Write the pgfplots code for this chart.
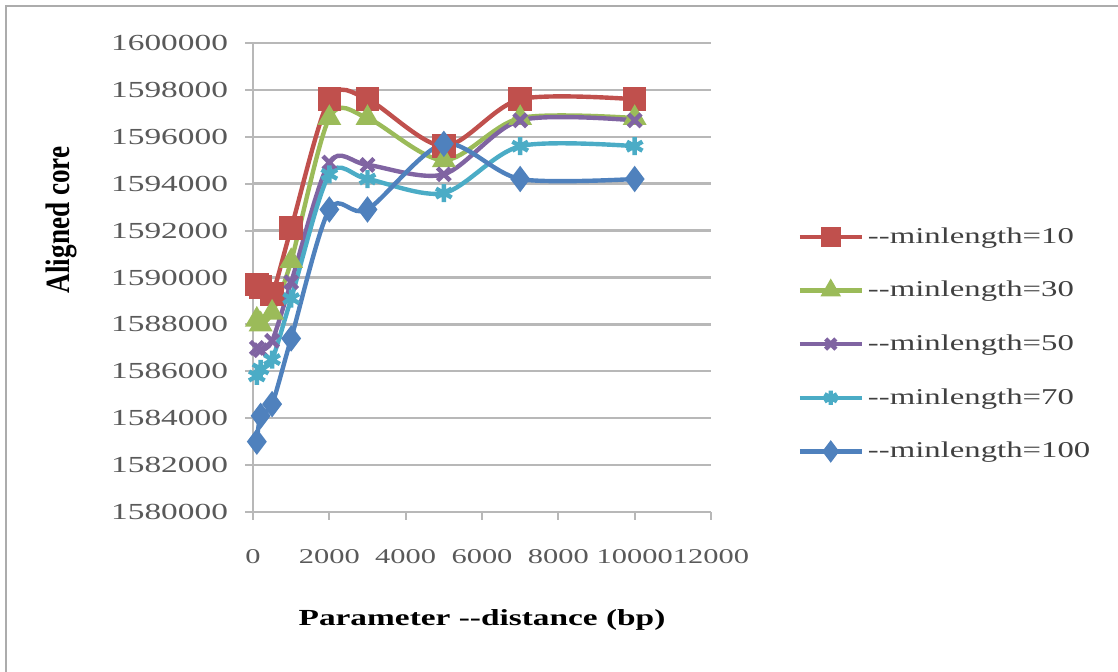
\documentclass[border=0pt]{standalone}
\usepackage{pgfplots}
\pgfplotsset{compat=1.18}
\usepackage{fontspec}
\setmainfont{Liberation Serif}[FakeStretch=1.45]
\newfontfamily\ylabfont{Liberation Serif}[FakeStretch=0.8]
\definecolor{cred}{HTML}{C0504D}
\definecolor{cgreen}{HTML}{9BBB59}
\definecolor{cpurple}{HTML}{8064A2}
\definecolor{ccyan}{HTML}{4BACC6}
\definecolor{cblue}{HTML}{4F81BD}
\definecolor{tickgray}{HTML}{595959}
\definecolor{gridgray}{HTML}{B8B8B8}
\begin{document}
\begin{tikzpicture}
\path[use as bounding box] (0,0) rectangle (559pt,-336pt);
\draw[gray!65, line width=1.2pt] (3pt,-336pt) -- (3pt,-3pt) -- (559pt,-3pt);
\begin{axis}[
  at={(126.5pt,-256pt)}, anchor=south west,
  scale only axis, width=229pt, height=234.5pt,
  xmin=0, xmax=12000, ymin=1580000, ymax=1600000,
  xtick={0,2000,4000,6000,8000,10000,12000},
  ytick={1580000,1582000,1584000,1586000,1588000,1590000,1592000,1594000,1596000,1598000,1600000},
  scaled ticks=false,
  axis x line=bottom, axis y line=left,
  axis line style={gridgray, line width=1pt, -},
  ymajorgrids, major grid style={gridgray, line width=1.2pt},
  tick style={gridgray, line width=1pt}, tick align=outside, major tick length=4pt,
  ticklabel style={text=tickgray,
    /pgf/number format/fixed, /pgf/number format/precision=0,
    /pgf/number format/1000 sep={}, /pgf/number format/assume math mode=true},
  xticklabel style={font=\fontsize{10.5}{12}\selectfont, yshift=-11pt},
  yticklabel style={font=\fontsize{11.5}{13}\selectfont, xshift=-5pt},
  xlabel={Parameter -{}-distance (bp)}, ylabel={Aligned core},
  xlabel style={font=\bfseries\fontsize{11.5}{13}\selectfont, text=black, at={(axis description cs:0.5,-0.23)}, anchor=center},
  ylabel style={font=\ylabfont\bfseries\fontsize{17}{19}\selectfont, text=black, at={(axis description cs:-0.419,0.623)}, anchor=center},
  legend style={at={(axis description cs:1.175,0.358)}, anchor=west, draw=none, fill=none,
    font=\fontsize{11.3}{13}\selectfont, text=black!75, row sep=13.5pt},
  legend cell align=left,
  legend image code/.code={\draw[mark repeat=2,mark phase=2,mark options={scale=0.8}] plot coordinates {(0pt,0pt) (15.5pt,0pt) (31pt,0pt)};},
  every axis plot/.append style={line width=2.2pt, smooth, mark options={solid}},
]
\addplot[cred, mark=square*, mark size=4.8pt] coordinates {
 (100,1589700) (200,1589600) (500,1589300) (1000,1592100) (2000,1597600) (3000,1597600) (5000,1595600) (7000,1597600) (10000,1597600)};
\addlegendentry{-{}-minlength=10}
\addplot[cgreen, mark=triangle*, mark size=4.7pt] coordinates {
 (100,1588200) (200,1588000) (500,1588500) (1000,1590700) (2000,1596800) (3000,1596800) (5000,1595000) (7000,1596800) (10000,1596800)};
\addlegendentry{-{}-minlength=30}
\addplot[cpurple, mark=x, mark size=4.5pt] coordinates {
 (100,1587000) (200,1586900) (500,1587300) (1000,1589800) (2000,1594900) (3000,1594800) (5000,1594400) (7000,1596700) (10000,1596700)};
\addlegendentry{-{}-minlength=50}
\addplot[ccyan, mark=asterisk, mark size=4.5pt] coordinates {
 (100,1585800) (200,1586100) (500,1586500) (1000,1589100) (2000,1594400) (3000,1594200) (5000,1593600) (7000,1595600) (10000,1595600)};
\addlegendentry{-{}-minlength=70}
\addplot[cblue, mark=diamond*, mark size=4.8pt] coordinates {
 (100,1583000) (200,1584100) (500,1584600) (1000,1587400) (2000,1592900) (3000,1592900) (5000,1595700) (7000,1594200) (10000,1594200)};
\addlegendentry{-{}-minlength=100}
\end{axis}
\end{tikzpicture}
\end{document}
